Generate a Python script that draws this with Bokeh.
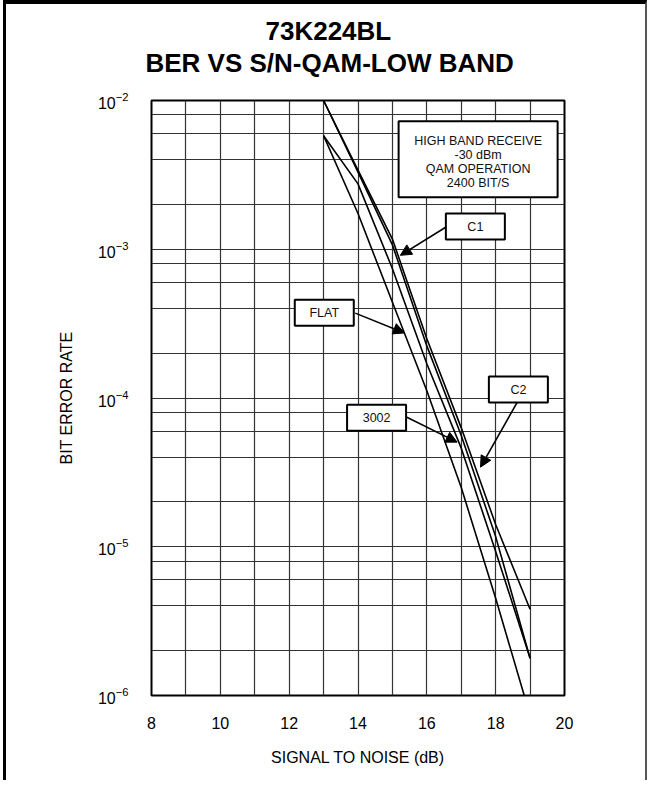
import numpy as np
from bokeh.plotting import figure
from bokeh.models import ColumnDataSource, FixedTicker, Arrow, NormalHead, Title
from bokeh.core.properties import value
from bokeh.embed import file_html
from bokeh.resources import INLINE

# ---------------- data ----------------
snr_c1 = [13, 14, 15, 16, 17, 18, 19]
ber_c1 = [1.0e-2, 3.4e-3, 1.17e-3, 2.5e-4, 6.3e-5, 1.41e-5, 3.8e-6]

snr_c2 = [13, 14, 15, 16, 17, 18, 19]
ber_c2 = [1.0e-2, 3.3e-3, 1.07e-3, 2.24e-4, 5.6e-5, 1.17e-5, 1.78e-6]

snr_flat = [13, 14, 15, 16, 17, 18, 18.83]
ber_flat = [5.8e-3, 1.74e-3, 4.4e-4, 1.12e-4, 2.5e-5, 4.5e-6, 1.0e-6]

snr_3002 = [13, 14, 15, 16, 17, 18, 19]
ber_3002 = [5.8e-3, 2.75e-3, 7.4e-4, 1.7e-4, 4.6e-5, 9.3e-6, 1.78e-6]

x_ticks = [8, 10, 12, 14, 16, 18, 20]
x_grid = list(range(8, 21))
y_major = [1e-6, 1e-5, 1e-4, 1e-3, 1e-2]
y_grid = [m * 10.0 ** e for e in range(-6, -2) for m in (1, 2, 4, 6, 8)] + [1e-2]

title_lines = ["73K224BL", "BER VS S/N-QAM-LOW BAND"]

info_lines = ["HIGH BAND RECEIVE", "-30 dBm", "QAM OPERATION", "2400 BIT/S"]
info_x = 17.49
info_y = 4.02e-3
info_line_y = [5.38e-3, 4.27e-3, 3.44e-3, 2.8e-3]

# callout labels: name, box centre (x, BER), arrow start, arrow end
callout_names = ["C1", "FLAT", "3002", "C2"]
callout_x = [17.41, 13.02, 14.54, 18.66]
callout_y = [1.42e-3, 3.74e-4, 7.38e-5, 1.14e-4]
arrow_x0 = [16.56, 13.92, 15.42, 18.62]
arrow_y0 = [1.41e-3, 3.72e-4, 7.43e-5, 9.3e-5]
arrow_x1 = [15.23, 15.35, 16.88, 17.56]
arrow_y1 = [9.1e-4, 2.74e-4, 5.05e-5, 3.43e-5]

FONT = "Liberation Sans"

p = figure(width=644, height=780, x_range=(8, 20), y_range=(1e-6, 1e-2),
           y_axis_type="log", output_backend="svg", toolbar_location=None,
           min_border_left=145, min_border_right=86, min_border_top=96,
           min_border_bottom=89)
p.styles = {"margin-left": "3px", "border-top": "4px solid black",
            "border-left": "3px solid black", "border-right": "2px solid #555555"}

# spacer between frame and title block
p.add_layout(Title(text=" ", text_font_size="1px", standoff=20), "above")
# titles (second line nearest the frame)
p.add_layout(Title(text=title_lines[1], align="left", offset=-6, standoff=0,
                   text_font=FONT, text_font_size="26px", text_font_style="bold",
                   text_color="black"), "above")
p.add_layout(Title(text=title_lines[0], align="left", offset=114, standoff=0,
                   text_font=FONT, text_font_size="26px", text_font_style="bold",
                   text_color="black"), "above")

# axes
p.xaxis.ticker = FixedTicker(ticks=x_ticks)
p.yaxis.ticker = FixedTicker(ticks=y_major)
p.xgrid.ticker = FixedTicker(ticks=x_grid)
p.ygrid.ticker = FixedTicker(ticks=y_grid)
p.grid.grid_line_color = "#333333"
p.grid.grid_line_width = 1.2
p.outline_line_color = "black"
p.outline_line_width = 2

for ax in p.axis:
    ax.axis_line_color = None
    ax.major_tick_line_color = None
    ax.minor_tick_line_color = None
    ax.major_label_text_font = FONT
    ax.major_label_text_font_size = "16px"
    ax.major_label_text_color = "black"
    ax.axis_label_text_font = FONT
    ax.axis_label_text_font_size = "16px"
    ax.axis_label_text_font_style = "normal"
    ax.axis_label_text_color = "black"

p.xaxis.axis_label = "SIGNAL TO NOISE (dB)"
p.yaxis.axis_label = "BIT ERROR RATE"
p.xaxis.major_label_standoff = 15
p.xaxis.axis_label_standoff = 17
p.yaxis.major_label_standoff = 17
p.yaxis.axis_label_standoff = 20

# curves
for sx, sy in [(snr_c1, ber_c1), (snr_c2, ber_c2), (snr_flat, ber_flat), (snr_3002, ber_3002)]:
    p.line(sx, sy, line_color="black", line_width=1.6)

# info box
p.rect(x=[info_x], y=[info_y], width=159, height=76, width_units="screen",
       height_units="screen", fill_color="white", line_color="black", line_width=2)
p.text(x=[info_x] * len(info_lines), y=info_line_y, text=info_lines,
       text_font=value(FONT), text_font_size="12.5px", text_align="center",
       text_baseline="middle", text_color="#111111")

# callouts
src = ColumnDataSource(dict(x=callout_x, y=callout_y, t=callout_names))
p.rect(x="x", y="y", width=59, height=26, width_units="screen", height_units="screen",
       fill_color="white", line_color="black", line_width=2, source=src)
p.text(x="x", y="y", text="t", text_font=value(FONT), text_font_size="12.5px",
       text_align="center", text_baseline="middle", text_color="#111111", source=src)

for i in range(len(callout_names)):
    p.add_layout(Arrow(end=NormalHead(size=11, fill_color="black", line_color="black"),
                       x_start=arrow_x0[i], y_start=arrow_y0[i],
                       x_end=arrow_x1[i], y_end=arrow_y1[i],
                       line_color="black", line_width=1.6))

open("out.html", "w").write(file_html(p, INLINE))
